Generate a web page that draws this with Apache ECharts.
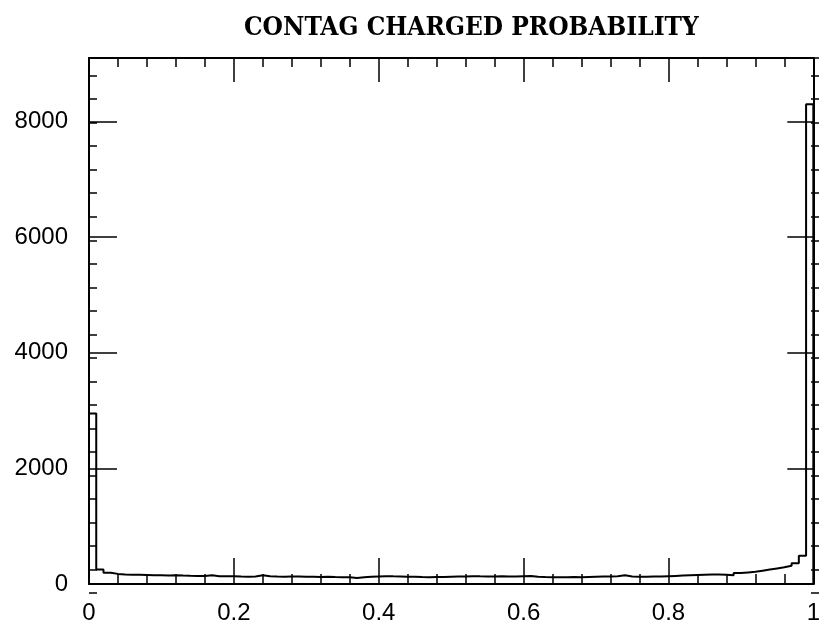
<!DOCTYPE html>
<html lang="en">
<head>
    <meta charset="UTF-8">
    <title>CONTAG CHARGED PROBABILITY</title>
    <script src="https://cdn.jsdelivr.net/npm/echarts@6/dist/echarts.min.js"></script>
    <style>
        html, body { margin: 0; padding: 0; background: #fff; }
        #main { width: 823px; height: 625px; }
    </style>
</head>
<body>
    <div id="main"></div>
    <script>
        // histogram, 100 bins of width 0.01 from 0 to 1
        var binWidth = 0.01;
        var counts = [
            2950, 250, 195, 175, 165, 160, 158, 155, 152, 150,
            148, 150, 145, 142, 140, 140, 150, 135, 132, 135,
            128, 125, 130, 150, 135, 128, 125, 130, 128, 125,
            125, 122, 125, 120, 118, 115, 105, 115, 125, 130,
            135, 132, 130, 125, 125, 120, 118, 120, 122, 125,
            128, 130, 135, 132, 130, 128, 132, 130, 128, 135,
            140, 125, 120, 118, 115, 118, 120, 118, 122, 125,
            128, 130, 135, 150, 130, 125, 125, 128, 130, 135,
            140, 145, 150, 155, 160, 165, 165, 160, 150, 190,
            200, 210, 230, 250, 270, 290, 315, 360, 490, 8300
        ];
        var xTicks = [0, 0.2, 0.4, 0.6, 0.8, 1];
        var yTicks = [0, 2000, 4000, 6000, 8000];

        var steps = [[0, 0]];
        for (var i = 0; i < counts.length; i++) {
            steps.push([i * binWidth, counts[i]]);
        }
        steps.push([counts.length * binWidth, counts[counts.length - 1]]);
        steps.push([counts.length * binWidth, 0]);

        var black = '#000';
        var labelFont = { color: black, fontFamily: 'Liberation Sans', fontSize: 24 };
        var gridBox = { left: 89, right: 4, top: 58, bottom: 32 };

        function xAx(grid, pos, major, minor, labels) {
            return {
                type: 'value', gridIndex: grid, position: pos,
                min: 0, max: 1, interval: 0.2,
                axisLine: { show: grid === 0, onZero: false, lineStyle: { color: black, width: 2 } },
                axisTick: { show: true, inside: true, length: major, lineStyle: { color: black, width: 1.5 } },
                minorTick: { show: true, splitNumber: 5, length: minor, lineStyle: { color: black, width: 1.5 } },
                axisLabel: Object.assign({
                    show: labels, margin: 17,
                    formatter: function (v) { return xTicks.indexOf(v) >= 0 ? String(v) : ''; }
                }, labelFont),
                splitLine: { show: false }
            };
        }
        function yAx(grid, pos, step, len, labels) {
            return {
                type: 'value', gridIndex: grid, position: pos,
                min: 0, max: 9100, interval: step,
                axisLine: { show: grid === 0, onZero: false, lineStyle: { color: black, width: 2 } },
                axisTick: { show: true, inside: true, length: len, lineStyle: { color: black, width: 1.5 } },
                axisLabel: Object.assign({
                    show: labels, margin: 21, showMaxLabel: false,
                    verticalAlignMinLabel: 'middle',
                    formatter: function (v) { return yTicks.indexOf(v) >= 0 ? String(v) : ''; }
                }, labelFont),
                splitLine: { show: false }
            };
        }

        var chart = echarts.init(document.getElementById('main'));
        chart.setOption({
            backgroundColor: '#fff',
            animation: false,
            title: {
                text: 'CONTAG CHARGED PROBABILITY',
                left: 239, top: 10,
                textStyle: { color: black, fontFamily: 'DejaVu Serif Condensed', fontSize: 26, fontWeight: 'bold' }
            },
            grid: [gridBox, gridBox],
            xAxis: [
                xAx(0, 'bottom', 26, 10, true),
                xAx(0, 'top', 24, 9, false),
                Object.assign(xAx(1, 'bottom', 0, 0, false), { show: false })
            ],
            yAxis: [
                yAx(0, 'left', 2000, 28, true),
                yAx(0, 'right', 2000, 26, false),
                yAx(1, 'left', 400, 8, false),
                yAx(1, 'right', 400, 8, false)
            ],
            series: [{
                type: 'line',
                xAxisIndex: 0,
                yAxisIndex: 0,
                step: 'end',
                showSymbol: false,
                lineStyle: { color: black, width: 2 },
                data: steps
            }]
        });
    </script>
</body>
</html>
